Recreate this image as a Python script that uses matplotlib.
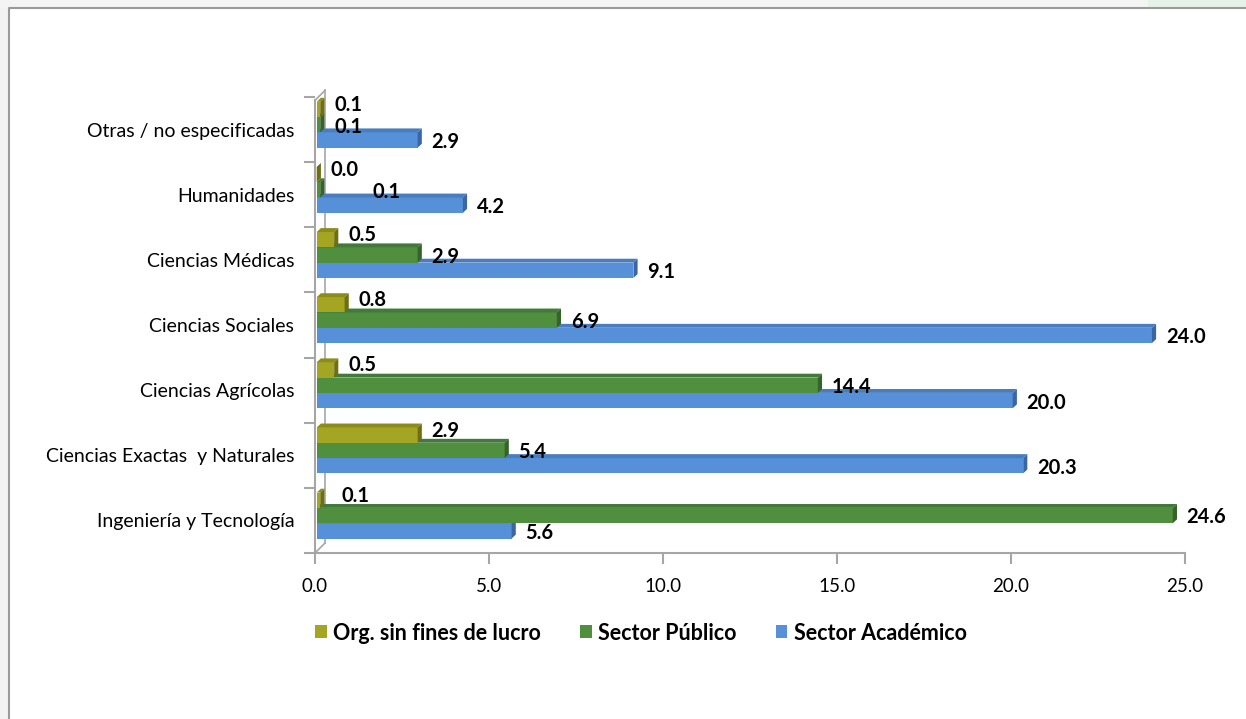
#!/usr/bin/env python3
"""Horizontal 3D-style bar chart: research personnel by field and sector."""
import matplotlib
matplotlib.use('Agg')
import matplotlib.pyplot as plt
from matplotlib.patches import Polygon, Patch, Rectangle
from matplotlib.lines import Line2D
import numpy as np

# data (bottom to top, as drawn)
categories = ['Ingeniería y Tecnología', 'Ciencias Exactas  y Naturales',
              'Ciencias Agrícolas', 'Ciencias Sociales', 'Ciencias Médicas',
              'Humanidades', 'Otras / no especificadas']
org_sfl = [0.1, 2.9, 0.5, 0.8, 0.5, 0.0, 0.1]
sector_publico = [24.6, 5.4, 14.4, 6.9, 2.9, 0.1, 0.1]
sector_academico = [5.6, 20.3, 20.0, 24.0, 9.1, 4.2, 2.9]
series_names = ['Org. sin fines de lucro', 'Sector Público', 'Sector Académico']
xticks = [0.0, 5.0, 10.0, 15.0, 20.0, 25.0]

COLORS = ['#a5a524', '#4f8f3e', '#5590d8']
DARK = ['#6f6f12', '#36632a', '#3a67a3']
TOP = ['#8c8c1a', '#43793a', '#4a7dbd']
GRAY = '#a6a6a6'
FONT = 'Lato'

fig = plt.figure(figsize=(12.46, 7.19), dpi=100)
fig.patch.set_facecolor('white')

# window frame / shadow
fig.patches.append(Rectangle((0, 0), 9 / 1246, 1, transform=fig.transFigure,
                             facecolor='#f2f2f2', edgecolor='none', zorder=0))
fig.patches.append(Rectangle((0, 1 - 8 / 719), 1, 8 / 719, transform=fig.transFigure,
                             facecolor='#f4f4f4', edgecolor='none', zorder=0))
fig.patches.append(Rectangle((1148 / 1246, 1 - 7 / 719), 98 / 1246, 7 / 719,
                             transform=fig.transFigure, facecolor='#e6f1ea',
                             edgecolor='none', zorder=0))
fig.lines.append(Line2D([9 / 1246, 9 / 1246, 1], [0, 1 - 8 / 719, 1 - 8 / 719],
                        transform=fig.transFigure, color='#9a9a9a', lw=1.5))

ax = fig.add_axes([315 / 1246, (719 - 553) / 719, 870 / 1246, 456 / 719])
ax.set_xlim(0, 25)
ax.set_ylim(-0.5, 6.5)
ax.patch.set_alpha(0)
for s in ax.spines.values():
    s.set_visible(False)

h = 0.235
offsets = [0.31, 0.075, -0.16]
label_dy = [0.07, -0.03, -0.03]
dx, dy = 0.12, 0.06
y = np.arange(len(categories))
all_series = [org_sfl, sector_publico, sector_academico]

# back wall and floor lines
wdx, wdy = 10 / 34.8, 10 / 65.2
ax.plot([0, 0], [-0.5, 6.5 - 0.05], color=GRAY, lw=1.5, clip_on=False, zorder=1)
ax.plot([wdx, wdx], [-0.5 + wdy, 6.5 + 0.1], color=GRAY, lw=1.2, clip_on=False, zorder=1)
ax.plot([0, wdx], [-0.5, -0.5 + wdy], color=GRAY, lw=1.2, clip_on=False, zorder=1)
ax.plot([0, wdx], [6.5 - 0.05, 6.5 + 0.1], color=GRAY, lw=1.2, clip_on=False, zorder=1)
ax.plot([0, 25], [-0.5, -0.5], color=GRAY, lw=1.5, clip_on=False, zorder=1)

label_nudge = {(0, 0): 0.2, (1, 5): 1.1}

for k in [2, 1, 0]:
    vals = all_series[k]
    for i, v in enumerate(vals):
        yc = y[i] + offsets[k]
        b, t = yc - h / 2, yc + h / 2
        ax.add_patch(Rectangle((0.05, b), v, h, facecolor=COLORS[k],
                               edgecolor='none', zorder=3 + (2 - k)))
        ax.add_patch(Polygon([(0.05, t), (0.05 + v, t), (0.05 + v + dx, t + dy),
                              (0.05 + dx, t + dy)], closed=True,
                             facecolor=TOP[k], edgecolor='none', zorder=3 + (2 - k)))
        ax.add_patch(Polygon([(0.05 + v, b), (0.05 + v + dx, b + dy),
                              (0.05 + v + dx, t + dy), (0.05 + v, t)], closed=True,
                             facecolor=DARK[k], edgecolor='none', zorder=3 + (2 - k)))
        ax.text(v + 0.45 + label_nudge.get((k, i), 0), yc + label_dy[k], f'{v:.1f}',
                ha='left', va='center', fontsize=14.5, fontweight='bold',
                family=FONT, color='black', zorder=10)

ax.set_xticks(xticks)
ax.set_xticklabels([f'{t:.1f}' for t in xticks], fontsize=13.5, family=FONT)
ax.tick_params(axis='x', length=8, color=GRAY, width=1.5, pad=10)
ax.set_yticks(np.arange(-0.5, 7, 1), minor=False)
ax.set_yticklabels([])
ax.tick_params(axis='y', length=8, color=GRAY, width=1.5)
ax.set_yticks(y, minor=True)
ax.set_yticklabels(categories, minor=True, fontsize=14, family=FONT)
ax.tick_params(axis='y', which='minor', length=0, pad=15)

handles = [Patch(facecolor=c, edgecolor='none') for c in COLORS]
fig.legend(handles, series_names, loc='center', bbox_to_anchor=(641 / 1246, 1 - 633 / 719),
           ncol=3, frameon=False, handlelength=0.55, handleheight=0.55, handletextpad=0.3,
           columnspacing=1.8, prop={'family': FONT, 'weight': 'bold', 'size': 15.5})

fig.savefig('out.png', dpi=100)
